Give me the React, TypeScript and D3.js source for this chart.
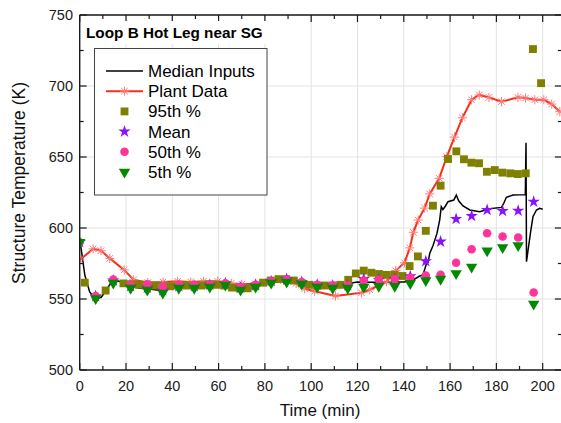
import React from "react";
import * as d3 from "d3";

// ---------- data ----------
const xTicks = [0, 20, 40, 60, 80, 100, 120, 140, 160, 180, 200];
const yTicks = [500, 550, 600, 650, 700, 750];

const medTime = [0, 0.5, 2.2, 4.3, 6.9, 9.3, 11.5, 13.6, 15, 18, 22, 26, 30, 35, 40, 45, 50, 55, 60, 65, 70, 75, 80, 85, 90, 95, 100, 105, 110, 115, 118, 120, 125, 130, 135, 140, 142.5, 144, 146.9, 148.3, 149.8, 150.5, 151.2, 152.6, 154.3, 155.5, 156.2, 156.9, 158, 159.1, 161.6, 162.7, 163.7, 165.6, 168.5, 172.8, 177.1, 182.2, 183.2, 184.3, 187.2, 192.5, 192.8, 193.0, 194.7, 195.8, 197.3, 198.7, 200];
const medTemp = [590, 586.8, 567, 555, 550, 551.2, 556.3, 561.8, 563.4, 562, 559, 557.5, 557, 556, 557.5, 558, 558, 558.5, 559.5, 558, 556.5, 558, 560.5, 562, 562.5, 561, 559, 558, 558, 558.5, 561.5, 562, 561.8, 561.8, 562, 562, 562.5, 563.4, 566.2, 567, 575, 576, 582, 587.5, 596, 605.6, 615, 613, 615.5, 618.5, 619.7, 623.2, 619.2, 615.5, 612.7, 611.5, 613.5, 614.5, 617.4, 621.6, 623.2, 623.5, 660, 576.3, 596.3, 608, 612.7, 613.9, 613.2];

const plantTime = [0, 5.8, 9.2, 13, 19.2, 23.3, 29.4, 36, 42.3, 48, 53.5, 59.6, 65.5, 70, 76, 82, 88, 93.5, 97.2, 101.5, 110.5, 121.7, 125.3, 132.5, 136.5, 140.3, 142.6, 144.1, 146.2, 149, 151.2, 155.3, 158.6, 161.9, 165.3, 169.3, 172.6, 176.8, 182.2, 189.3, 192.6, 196.6, 200.5, 203.9, 207.4];
const plantTemp = [577.5, 585.3, 584, 578.6, 570.5, 563.5, 561.5, 562, 562.5, 562, 562.5, 562.5, 561, 560.5, 560.5, 562, 563, 561, 557.2, 555.5, 552.2, 554.4, 556.5, 562, 570, 575.5, 586, 597, 605.6, 614, 624, 635, 650.2, 664, 677.6, 690.3, 693.7, 692, 689, 692, 691.5, 690.3, 690.3, 687.3, 681.9];

const p95Time = [2.2, 11.2, 18.9, 22.2, 25.6, 28.9, 32.3, 35.6, 39.0, 42.3, 45.7, 49.0, 52.4, 55.7, 59.1, 62.4, 65.8, 69.1, 72.5, 75.8, 79.2, 82.5, 85.9, 89.2, 92.5, 95.9, 99.2, 102.6, 105.9, 109.3, 112.6, 116.0, 119.3, 122.7, 126.0, 129.3, 132.7, 136.1, 139.4, 142.5, 146.1, 149.5, 152.6, 155.9, 159.1, 162.7, 166.0, 169.2, 172.5, 175.9, 179.3, 182.6, 186.0, 189.3, 192.7, 195.8, 199.3];
const p95Temp = [561.5, 556, 561, 560.5, 560, 560, 559.5, 559, 559, 559.5, 559.5, 559.5, 559.5, 560, 560, 559.5, 558, 557.5, 557.5, 559, 561.5, 563, 564, 564, 563, 561, 560, 559.5, 559.5, 559.5, 560, 563.5, 568, 570, 568.5, 567.6, 567, 567, 566.2, 573.2, 580, 598, 615.7, 629.8, 648.6, 654, 648.4, 646, 645.6, 639.6, 640.8, 639, 638.5, 638, 638.5, 726, 702];

const sampTime = [0, 6.9, 14.5, 22.0, 29.2, 35.9, 42.8, 49.5, 56.2, 62.9, 69.5, 76.0, 82.7, 89.4, 95.9, 102.6, 109.3, 115.8, 122.7, 129.2, 136.1, 142.8, 149.5, 155.9, 162.6, 169.3, 176.0, 182.7, 189.4, 196.1];
const meanTemp = [590, 552, 563, 559, 558, 556, 559, 559, 560, 561, 558, 560, 562.5, 564, 562, 560, 559.5, 559.5, 564, 563.5, 564, 566, 576.6, 590.4, 606.3, 608.5, 612.7, 612, 612.2, 618.5];
const p50Temp = [590, 552, 563.7, 560, 560.4, 558.7, 560, 560, 560, 561, 558.5, 560, 562.5, 563.5, 562, 560, 559.5, 559.5, 563, 563.5, 564, 565, 566.5, 567, 575.5, 585, 596.3, 594, 593.3, 554.6];
const p5Temp = [590, 550.4, 561.3, 557.7, 556.3, 554.2, 557.7, 557.7, 558.5, 559.9, 556.3, 558.5, 561.3, 562, 560.6, 558.5, 557.7, 557.7, 558.5, 559, 559, 561, 563, 564, 568, 572.5, 584, 586.3, 587.7, 546.5];

const legendLabels = ["Median Inputs", "Plant Data", "95th %", "Mean", "50th %", "5th %"];

// ---------- layout ----------
const W = 561;
const H = 423;
const x = d3.scaleLinear().domain([0, 208.3]).range([79.7, 561.9]);
const y = d3.scaleLinear().domain([500, 750]).range([370, 15]);

const COL = {
  med: "#000000",
  plant: "#f5301a",
  plantMark: "#ff7a7a",
  p95: "#808000",
  mean: "#8a10ff",
  p50: "#ff3399",
  p5: "#008a00",
};

const FONT = "'Liberation Sans', Arial, sans-serif";

const squarePath = d3.symbol().type(d3.symbolSquare).size(62)()!;
const starPath = d3.symbol().type(d3.symbolStar).size(48)()!;
const circlePath = d3.symbol().type(d3.symbolCircle).size(58)()!;
const triPath = d3.symbol().type(d3.symbolTriangle).size(56)()!;

function asterisk(r: number) {
  const p = d3.path();
  for (let k = 0; k < 4; k++) {
    const a = (k * Math.PI) / 4;
    p.moveTo(-r * Math.cos(a), -r * Math.sin(a));
    p.lineTo(r * Math.cos(a), r * Math.sin(a));
  }
  return p.toString();
}
const astPath = asterisk(4.6);

export default function App() {
  const medLine = d3
    .line<number>()
    .x((_, i) => x(medTime[i]))
    .y((d) => y(d))(medTemp)!;
  const plantLine = d3
    .line<number>()
    .x((_, i) => x(plantTime[i]))
    .y((d) => y(d))(plantTemp)!;

  const x0 = x(0);
  const x1 = x(208.3);
  const yTop = y(750);
  const yBot = y(500);

  const majorX = xTicks;
  const minorX = d3.range(10, 210, 20);
  const majorY = yTicks;
  const minorY = d3.range(525, 750, 50);

  const legX = 94.5;
  const legY = 48.5;
  const legRowY = (i: number) => 71 + i * 20.2;
  const symX = 124.5;

  return (
    <svg
      width={W}
      height={H}
      style={{ position: "absolute", left: 0, top: 0, background: "#fff" }}
      fontFamily={FONT}
    >
      <rect x={0} y={0} width={W} height={H} fill="#fff" />
      <defs>
        <clipPath id="plot">
          <rect x={x0} y={yTop - 20} width={x1 - x0 + 5} height={yBot - yTop + 20} />
        </clipPath>
      </defs>

      {/* gridlines */}
      <g stroke="#e3e3e3" strokeWidth={1}>
        {majorX.map((t) => (
          <line key={"gx" + t} x1={x(t)} x2={x(t)} y1={yTop} y2={yBot} />
        ))}
        {majorY.map((v) => (
          <line key={"gy" + v} x1={x0} x2={x1} y1={y(v)} y2={y(v)} />
        ))}
      </g>

      {/* data */}
      <g clipPath="url(#plot)">
        <path d={medLine} fill="none" stroke={COL.med} strokeWidth={1.5} />
        <path d={plantLine} fill="none" stroke={COL.plant} strokeWidth={2} />
        {plantTime.map((t, i) => (
          <path
            key={"pa" + i}
            d={astPath}
            transform={`translate(${x(t)},${y(plantTemp[i])})`}
            stroke={COL.plantMark}
            strokeWidth={1}
            fill="none"
          />
        ))}
        {p95Time.map((t, i) => (
          <path key={"p95" + i} d={squarePath} transform={`translate(${x(t)},${y(p95Temp[i])})`} fill={COL.p95} />
        ))}
        {sampTime.map((t, i) => (
          <path key={"mn" + i} d={starPath} transform={`translate(${x(t)},${y(meanTemp[i])})`} fill={COL.mean} />
        ))}
        {sampTime.map((t, i) => (
          <path key={"p50" + i} d={circlePath} transform={`translate(${x(t)},${y(p50Temp[i])})`} fill={COL.p50} />
        ))}
        {sampTime.map((t, i) => (
          <path
            key={"p5" + i}
            d={triPath}
            transform={`translate(${x(t)},${y(p5Temp[i])}) rotate(180)`}
            fill={COL.p5}
          />
        ))}
      </g>

      {/* axes frame */}
      <g stroke="#1a1a1a" strokeWidth={1.4}>
        <line x1={x0} x2={x0} y1={yTop} y2={yBot} />
        <line x1={x0} x2={x1} y1={yBot} y2={yBot} />
        <line x1={x0} x2={x1} y1={yTop} y2={yTop} />
        <line x1={x1} x2={x1} y1={yTop} y2={yBot} />
      </g>
      <g stroke="#1a1a1a" strokeWidth={1.2}>
        {majorX.map((t) => (
          <g key={"tx" + t}>
            <line x1={x(t)} x2={x(t)} y1={yBot} y2={yBot - 7} />
            <line x1={x(t)} x2={x(t)} y1={yTop} y2={yTop + 7} />
          </g>
        ))}
        {minorX.map((t) => (
          <g key={"mx" + t}>
            <line x1={x(t)} x2={x(t)} y1={yBot} y2={yBot - 4} />
            <line x1={x(t)} x2={x(t)} y1={yTop} y2={yTop + 4} />
          </g>
        ))}
        {majorY.map((v) => (
          <g key={"ty" + v}>
            <line x1={x0} x2={x0 + 7} y1={y(v)} y2={y(v)} />
            <line x1={x1} x2={x1 - 7} y1={y(v)} y2={y(v)} />
          </g>
        ))}
        {minorY.map((v) => (
          <g key={"my" + v}>
            <line x1={x0} x2={x0 + 4} y1={y(v)} y2={y(v)} />
            <line x1={x1} x2={x1 - 4} y1={y(v)} y2={y(v)} />
          </g>
        ))}
      </g>

      {/* tick labels */}
      <g fontSize={14.5} fill="#1a1a1a">
        {majorX.map((t) => (
          <text key={"lx" + t} x={x(t)} y={391} textAnchor="middle">
            {t}
          </text>
        ))}
        {majorY.map((v) => (
          <text key={"ly" + v} x={73} y={y(v) + 5} textAnchor="end">
            {v}
          </text>
        ))}
      </g>

      {/* axis titles */}
      <text x={320} y={416} fontSize={17} textAnchor="middle" fill="#111">
        Time (min)
      </text>
      <text
        transform={`translate(25,183) rotate(-90)`}
        fontSize={17.5}
        textAnchor="middle"
        fill="#111"
      >
        Structure Temperature (K)
      </text>

      {/* title */}
      <rect x={83} y={21} width={185} height={23} fill="#fff" />
      <text x={86} y={37.7} fontSize={15.3} fontWeight="bold" fill="#000">
        Loop B Hot Leg near SG
      </text>

      {/* legend */}
      <rect x={legX} y={legY} width={172.5} height={146.5} fill="#fff" stroke="#444" strokeWidth={1} />
      <line x1={106} x2={143} y1={legRowY(0)} y2={legRowY(0)} stroke={COL.med} strokeWidth={1.5} />
      <line x1={106} x2={143} y1={legRowY(1)} y2={legRowY(1)} stroke={COL.plant} strokeWidth={2} />
      <path d={astPath} transform={`translate(${symX},${legRowY(1)})`} stroke={COL.plantMark} strokeWidth={1} fill="none" />
      <path d={squarePath} transform={`translate(${symX},${legRowY(2)})`} fill={COL.p95} />
      <path d={starPath} transform={`translate(${symX},${legRowY(3)})`} fill={COL.mean} />
      <path d={circlePath} transform={`translate(${symX},${legRowY(4)})`} fill={COL.p50} />
      <path d={triPath} transform={`translate(${symX},${legRowY(5)}) rotate(180)`} fill={COL.p5} />
      {legendLabels.map((s, i) => (
        <text key={s} x={148} y={legRowY(i) + 6} fontSize={17} fill="#000">
          {s}
        </text>
      ))}
    </svg>
  );
}
